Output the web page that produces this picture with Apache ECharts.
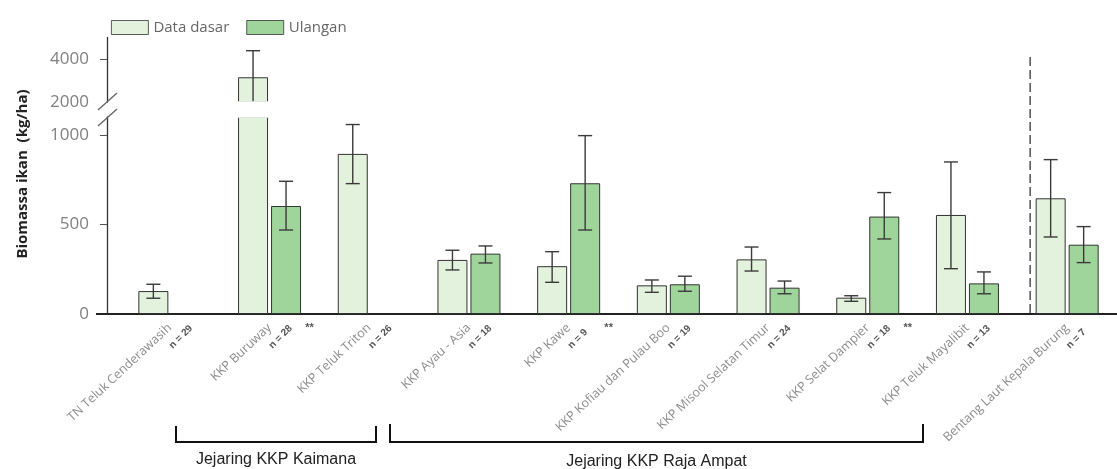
<!DOCTYPE html>
<html><head><meta charset="utf-8">
<script src="https://cdn.jsdelivr.net/npm/echarts@6/dist/echarts.min.js"></script>
<style>html,body{margin:0;padding:0;background:#fff}#c{width:1117px;height:469px}</style>
</head><body><div id="c"></div>
<script>
// ---------- data ----------
const categories = ['TN Teluk Cenderawasih','KKP Buruway','KKP Teluk Triton','KKP Ayau - Asia','KKP Kawe','KKP Kofiau dan Pulau Boo','KKP Misool Selatan Timur','KKP Selat Dampier','KKP Teluk Mayalibit','Bentang Laut Kepala Burung'];
const nCounts = [29, 28, 26, 18, 9, 19, 24, 18, 13, 7];
const signif = ['', '**', '', '', '**', '', '', '**', '', ''];
const baseline     = [128, 3150, 894, 302, 267, 160, 305, 91, 553, 646];
const baselineLow  = [88, 1914, 728, 246, 177, 121, 240, 71, 253, 430];
const baselineHigh = [166, 4386, 1058, 356, 348, 190, 374, 102, 849, 862];
const repeat       = [null, 603, null, 337, 730, 166, 147, 544, 171, 387];
const repeatLow    = [null, 469, null, 285, 469, 127, 113, 419, 113, 287];
const repeatHigh   = [null, 741, null, 380, 996, 211, 184, 678, 235, 488];
const lowerTicks = [0, 500, 1000];
const upperTicks = [2000, 4000];
const groups = [
  {name: 'Jejaring KKP Kaimana'},
  {name: 'Jejaring KKP Raja Ampat'}
];

// ---------- layout ----------
const LOW_MIN = 0, LOW_MAX = 1100, UP_MIN = 2000, UP_MAX = 5000;
const LIGHT = '#e3f2dc', GREEN = '#9fd59a', BORDER = '#333';
const BAR_W = 30, OFF = 16.5;
const FONT = 'Open Sans';

function errData(lo, hi) {
  const out = [];
  lo.forEach((l, i) => { if (l != null) out.push([i, l, hi[i]]); });
  return out;
}
function makeErr(offset, min, max) {
  return function (params, api) {
    const i = api.value(0), lo = api.value(1), hi = api.value(2);
    const a = Math.max(lo, min), b = Math.min(hi, max);
    if (a >= b) return null;
    const p1 = api.coord([i, a]), p2 = api.coord([i, b]);
    const x = p1[0] + offset;
    const style = {stroke: '#3a3a3a', lineWidth: 1.4};
    const ch = [{type: 'line', shape: {x1: x, y1: p1[1], x2: x, y2: p2[1]}, style}];
    if (hi <= max) ch.push({type: 'line', shape: {x1: x - 7, y1: p2[1], x2: x + 7, y2: p2[1]}, style});
    if (lo >= min) ch.push({type: 'line', shape: {x1: x - 7, y1: p1[1], x2: x + 7, y2: p1[1]}, style});
    return {type: 'group', children: ch};
  };
}

const chart = echarts.init(document.getElementById('c'));
const barItem = c => ({color: c, borderColor: BORDER, borderWidth: 1});
const plain = v => String(v);

chart.setOption({
  animation: false,
  legend: {
    data: ['Data dasar', 'Ulangan'], left: 106, top: 15, itemWidth: 37, itemHeight: 14, itemGap: 17,
    icon: 'rect', itemStyle: {borderWidth: 0.8},
    textStyle: {fontFamily: FONT, fontSize: 15, color: '#666'}
  },
  grid: [
    {left: 120, right: -3, top: 117, height: 197},
    {left: 120, right: -3, top: 37.5, height: 64.5}
  ],
  xAxis: [
    {type: 'category', gridIndex: 0, data: categories,
     axisLine: {lineStyle: {color: '#222', width: 2}},
     axisTick: {alignWithLabel: true, length: 8, lineStyle: {color: '#555'}},
     axisLabel: {interval: 0, rotate: 43, margin: 12, fontSize: 12.5, color: '#8c8c8c', fontFamily: FONT}},
    {type: 'category', gridIndex: 1, data: categories, show: false}
  ],
  yAxis: [
    {type: 'value', gridIndex: 0, min: LOW_MIN, max: LOW_MAX, offset: 13,
     axisLine: {show: true, lineStyle: {color: '#333', width: 1.3}},
     axisTick: {show: true, customValues: lowerTicks, length: 7, lineStyle: {color: '#555'}},
     axisLabel: {customValues: lowerTicks, formatter: plain, margin: 18, fontSize: 17, color: '#808080', fontFamily: FONT},
     splitLine: {show: false}},
    {type: 'value', gridIndex: 1, min: UP_MIN, max: UP_MAX, offset: 13,
     axisLine: {show: true, lineStyle: {color: '#333', width: 1.3}},
     axisTick: {show: true, customValues: [upperTicks[1]], length: 7, lineStyle: {color: '#555'}},
     axisLabel: {customValues: upperTicks, formatter: plain, margin: 18, fontSize: 17, color: '#808080', fontFamily: FONT},
     splitLine: {show: false}}
  ],
  series: [
    {type: 'bar', name: 'Data dasar', xAxisIndex: 0, yAxisIndex: 0, data: baseline, barWidth: BAR_W, barGap: '10%', itemStyle: barItem(LIGHT)},
    {type: 'bar', name: 'Ulangan', xAxisIndex: 0, yAxisIndex: 0, data: repeat, barWidth: BAR_W, barGap: '10%', itemStyle: barItem(GREEN)},
    {type: 'bar', name: 'Data dasar', xAxisIndex: 1, yAxisIndex: 1, data: baseline.map(v => v != null && v > UP_MIN ? v : null), barWidth: BAR_W, barGap: '10%', itemStyle: barItem(LIGHT)},
    {type: 'bar', name: 'Ulangan', xAxisIndex: 1, yAxisIndex: 1, data: repeat.map(v => v != null && v > UP_MIN ? v : null), barWidth: BAR_W, barGap: '10%', itemStyle: barItem(GREEN)},
    {type: 'custom', xAxisIndex: 0, yAxisIndex: 0, data: errData(baselineLow, baselineHigh), encode: {x: 0, y: [1, 2]}, renderItem: makeErr(-OFF, LOW_MIN, LOW_MAX), z: 5},
    {type: 'custom', xAxisIndex: 0, yAxisIndex: 0, data: errData(repeatLow, repeatHigh), encode: {x: 0, y: [1, 2]}, renderItem: makeErr(OFF, LOW_MIN, LOW_MAX), z: 5},
    {type: 'custom', xAxisIndex: 1, yAxisIndex: 1, data: errData(baselineLow, baselineHigh), encode: {x: 0, y: [1, 2]}, renderItem: makeErr(-OFF, UP_MIN, UP_MAX), z: 5},
    {type: 'custom', xAxisIndex: 1, yAxisIndex: 1, data: errData(repeatLow, repeatHigh), encode: {x: 0, y: [1, 2]}, renderItem: makeErr(OFF, UP_MIN, UP_MAX), z: 5}
  ]
});

// ---------- decorations ----------
const cx = i => chart.convertToPixel({xAxisIndex: 0}, i);
const y0 = chart.convertToPixel({yAxisIndex: 0}, 0);
const yTopLow = chart.convertToPixel({yAxisIndex: 0}, LOW_MAX);
const yBotUp = chart.convertToPixel({yAxisIndex: 1}, UP_MIN);
const axisX = 107;
const g = [];
// axis break band over the tall bar
baseline.forEach((v, i) => {
  if (v > LOW_MAX) g.push({type: 'rect', z: 100, shape: {x: cx(i) - OFF - 22, y: yBotUp - 0.8, width: 44, height: yTopLow - yBotUp + 1.6}, style: {fill: '#fff'}});
});
// break slashes on y axis
g.push({type: 'line', z: 101, shape: {x1: axisX - 9, y1: yBotUp + 8, x2: axisX + 10, y2: yBotUp - 9}, style: {stroke: '#666', lineWidth: 1.4}});
g.push({type: 'line', z: 101, shape: {x1: axisX - 9, y1: yTopLow + 9, x2: axisX + 10, y2: yTopLow - 8}, style: {stroke: '#666', lineWidth: 1.4}});
// x axis extension to the left
g.push({type: 'line', z: 50, shape: {x1: 96, y1: y0, x2: 121, y2: y0}, style: {stroke: '#222', lineWidth: 2}});
// y axis title
g.push({type: 'text', x: 23, y: 174, rotation: Math.PI / 2, style: {text: 'Biomassa ikan  (kg/ha)', fontFamily: FONT, fontSize: 15, fontWeight: 'bold', fill: '#222', align: 'center', verticalAlign: 'middle'}});
// n labels and significance
categories.forEach((c, i) => {
  const x = cx(i);
  g.push({type: 'text', x: x + 1, y: y0 + 33, rotation: Math.PI / 4, style: {text: 'n = ' + nCounts[i], fontFamily: 'Liberation Sans', fontSize: 10, fontWeight: 'bold', fill: '#555', align: 'left', verticalAlign: 'middle'}});
  if (signif[i]) g.push({type: 'text', x: x + 40, y: y0 + 14, style: {text: signif[i], fontFamily: 'Liberation Sans', fontSize: 11, fontWeight: 'bold', fill: '#555', align: 'center', verticalAlign: 'middle'}});
});
// dashed separator before last group
const sepX = cx(categories.length - 1) - 37;
g.push({type: 'line', shape: {x1: sepX, y1: 57, x2: sepX, y2: y0 - 1}, style: {stroke: '#444', lineWidth: 1.4, lineDash: [9, 4]}});
// brackets
const br = [[176, 376, 426], [390, 923, 424]];
br.forEach((b, k) => {
  g.push({type: 'polyline', shape: {points: [[b[0], b[2]], [b[0], 442], [b[1], 442], [b[1], b[2]]]}, style: {stroke: '#111', lineWidth: 2, fill: null}});
  g.push({type: 'text', x: (b[0] + b[1]) / 2, y: 460 + k * 2, style: {text: groups[k].name, fontFamily: 'Liberation Sans', fontSize: 16, fill: '#222', align: 'center', verticalAlign: 'middle'}});
});
chart.setOption({graphic: g});
</script>
</body></html>
